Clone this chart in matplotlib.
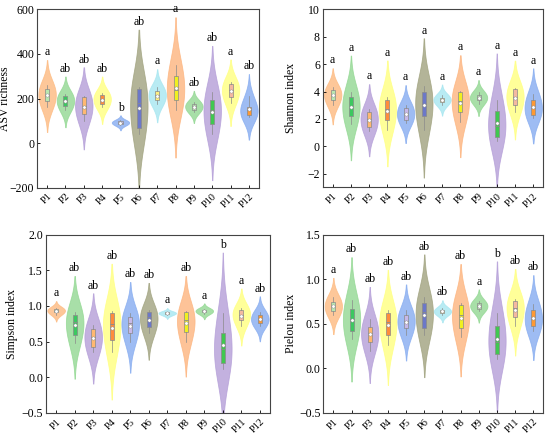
import numpy as np
import matplotlib
matplotlib.use('Agg')
import matplotlib.pyplot as plt

plt.rcParams['font.family'] = ['Liberation Serif', 'DejaVu Serif']
plt.rcParams['font.size'] = 8

# >>> data -----
groups = ['P1', 'P2', 'P3', 'P4', 'P5', 'P6', 'P7', 'P8', 'P9', 'P10', 'P11', 'P12']

asv = [[160, 188, 216, 245, 262], [150, 165, 192, 210, 220], [100, 130, 166, 205, 212],
       [160, 175, 198, 218, 225], [80, 87, 92, 97, 102], [40, 70, 178, 243, 250],
       [175, 192, 216, 235, 250], [150, 192, 240, 300, 350], [140, 150, 165, 177, 185],
       [40, 88, 148, 195, 230], [180, 208, 238, 265, 272], [115, 125, 150, 162, 210]]
shannon = [[3.0, 3.4, 3.75, 4.1, 4.3], [1.6, 2.2, 2.9, 3.6, 4.0], [1.1, 1.4, 2.0, 2.5, 2.7],
           [1.2, 1.9, 2.7, 3.35, 3.6], [1.7, 1.95, 2.35, 2.8, 3.0], [1.2, 2.2, 3.1, 4.0, 4.4],
           [3.0, 3.25, 3.4, 3.55, 3.75], [1.8, 2.5, 3.3, 4.0, 4.05], [3.1, 3.35, 3.55, 3.75, 3.95],
           [0.4, 0.7, 1.5, 2.6, 3.4], [2.5, 3.05, 3.6, 4.2, 4.25], [2.1, 2.3, 2.8, 3.35, 3.8]]
simpson = [[0.88, 0.91, 0.935, 0.96, 0.97], [0.48, 0.6, 0.78, 0.88, 0.92], [0.35, 0.43, 0.57, 0.68, 0.74],
           [0.35, 0.53, 0.75, 0.9, 0.93], [0.5, 0.62, 0.76, 0.84, 0.9], [0.62, 0.7, 0.84, 0.91, 0.95],
           [0.87, 0.89, 0.9, 0.91, 0.92], [0.5, 0.64, 0.8, 0.91, 0.93], [0.89, 0.91, 0.93, 0.95, 0.96],
           [0.12, 0.2, 0.4, 0.62, 0.9], [0.72, 0.81, 0.88, 0.95, 0.97], [0.72, 0.76, 0.82, 0.87, 0.92]]
pielou = [[0.6, 0.64, 0.7, 0.75, 0.8], [0.33, 0.42, 0.55, 0.67, 0.77], [0.2, 0.3, 0.4, 0.46, 0.55],
          [0.26, 0.38, 0.52, 0.62, 0.66], [0.38, 0.45, 0.53, 0.6, 0.65], [0.38, 0.45, 0.63, 0.73, 0.8],
          [0.6, 0.62, 0.64, 0.66, 0.68], [0.35, 0.45, 0.6, 0.71, 0.73], [0.64, 0.67, 0.7, 0.73, 0.76],
          [0.1, 0.16, 0.3, 0.48, 0.62], [0.48, 0.58, 0.68, 0.76, 0.78], [0.42, 0.48, 0.55, 0.65, 0.72]]

letters_asv = ['a', 'ab', 'ab', 'ab', 'b', 'ab', 'a', 'a', 'ab', 'ab', 'a', 'ab']
letters_shannon = ['a'] * 12
letters_simpson = ['a', 'ab', 'ab', 'ab', 'ab', 'ab', 'a', 'ab', 'a', 'b', 'a', 'ab']
letters_pielou = ['a', 'ab', 'ab', 'ab', 'ab', 'ab', 'ab', 'ab', 'a', 'b', 'ab', 'ab']

violin_colors = ['#FDBA80', '#92D892', '#B49ED8', '#FFFF80', '#86ACF0', '#A0A27E',
                 '#A6E6F0', '#FDB47E', '#92D892', '#B49ED8', '#FFFF80', '#86ACF0']
box_colors = ['#B8E8B0', '#3CC860', '#FFB870', '#FF8C3C', '#C8B8E8', '#6C78C8',
              '#FFF080', '#F0F020', '#B8E4B0', '#40C850', '#F4B8A0', '#FF9933']

BW_ADJ = 1.6
CUT = 2.3


def kde_stats(s):
    s = np.asarray(s, float)
    bw = BW_ADJ * len(s) ** (-0.2) * s.std(ddof=1)
    coords = np.linspace(s.min() - CUT * bw, s.max() + CUT * bw, 300)
    vals = np.exp(-0.5 * ((coords[:, None] - s[None, :]) / bw) ** 2).sum(1)
    return dict(coords=coords, vals=vals, mean=s.mean(), median=np.median(s),
                min=s.min(), max=s.max(), quantiles=[])


def panel(ax, data, letters, ylabel, ylim, yticks, fmt, label_x):
    pos = np.arange(len(groups))
    stats = [kde_stats(s) for s in data]
    parts = ax.violin(stats, positions=pos, widths=0.95, showextrema=False)
    for body, c in zip(parts['bodies'], violin_colors):
        body.set_facecolor(c)
        body.set_edgecolor(c)
        body.set_alpha(0.8)
        body.set_linewidth(0.6)

    bp = ax.boxplot(data, positions=pos, widths=0.22, whis=(0, 100), patch_artist=True,
                    showmeans=True, showfliers=False, showcaps=False, manage_ticks=False,
                    boxprops=dict(linewidth=0.5, edgecolor='#8a8a8a'),
                    whiskerprops=dict(linewidth=0.5, color='#8a8a8a'),
                    medianprops=dict(linewidth=0.6, color='#8a8a8a'),
                    meanprops=dict(marker='o', markersize=2.4, markerfacecolor='white',
                                   markeredgecolor='#8a8a8a', markeredgewidth=0.3))
    for b, c in zip(bp['boxes'], box_colors):
        b.set_facecolor(c)

    rng = ylim[1] - ylim[0]
    for i, (st, lt) in enumerate(zip(stats, letters)):
        ax.text(i, st['coords'][-1] + 0.01 * rng, lt, ha='center', va='bottom', fontsize=8.5)

    ax.set_xlim(-0.55, len(groups) - 0.45)
    ax.set_ylim(*ylim)
    ax.set_yticks(yticks)
    ax.set_yticklabels([fmt.format(t).replace('-', '\u2212') for t in yticks], fontsize=8.5)
    ax.set_xticks(pos)
    ax.set_xticklabels(groups, rotation=45, ha='right', rotation_mode='anchor', fontsize=7.5)
    ax.set_ylabel(ylabel, fontsize=8.5)
    ax.yaxis.set_label_coords(label_x, 0.5)
    ax.tick_params(axis='y', direction='in', length=2.5, width=0.6, pad=2)
    ax.tick_params(axis='x', direction='in', length=2, width=0.6, pad=3)
    for sp in ax.spines.values():
        sp.set_linewidth(0.8)
        sp.set_color('#444444')


fig = plt.figure(figsize=(5.5, 4.36), dpi=100)
ax1 = fig.add_axes([0.0673, 0.5695, 0.4036, 0.409])
ax2 = fig.add_axes([0.5867, 0.5704, 0.4010, 0.408])
ax3 = fig.add_axes([0.0836, 0.0528, 0.4073, 0.409])
ax4 = fig.add_axes([0.5879, 0.0528, 0.4000, 0.409])

panel(ax1, asv, letters_asv, 'ASV richness', (-200, 600), [-200, 0, 200, 400, 600], '{:.0f}', -0.115)
panel(ax2, shannon, letters_shannon, 'Shannon index', (-3, 10), [-2, 0, 2, 4, 6, 8, 10], '{:.0f}', -0.115)
panel(ax3, simpson, letters_simpson, 'Simpson index', (-0.5, 2.0), [-0.5, 0.0, 0.5, 1.0, 1.5, 2.0], '{:.1f}', -0.125)
panel(ax4, pielou, letters_pielou, 'Pielou index', (-0.5, 1.5), [-0.5, 0.0, 0.5, 1.0, 1.5], '{:.1f}', -0.118)

fig.savefig('out.png', dpi=100)
